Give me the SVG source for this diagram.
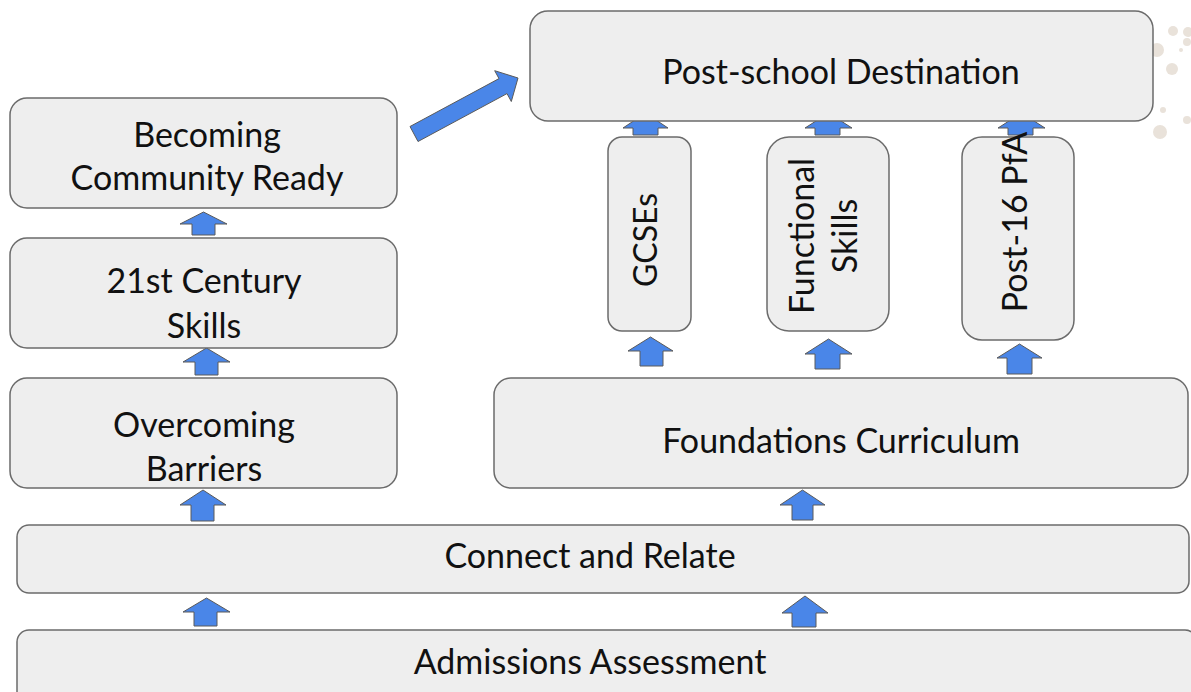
<svg xmlns="http://www.w3.org/2000/svg" width="1191" height="692" viewBox="0 0 1191 692">
<style>
.box{fill:#eeeeee;stroke:#6b6b6b;stroke-width:1.5}
.t{font-family:Lato,"Liberation Sans",sans-serif;font-size:34px;fill:#111;text-anchor:middle}
.arr{fill:#4a86e8;stroke:#5a5a5a;stroke-width:1;stroke-linejoin:miter}
.sp{fill:#e9e2da}
</style>
<g id="splatter">
<circle class="sp" cx="1173" cy="31" r="5"/>
<circle class="sp" cx="1188" cy="32" r="5"/>
<circle class="sp" cx="1157" cy="50" r="7"/>
<circle class="sp" cx="1172" cy="69" r="6"/>
<circle class="sp" cx="1181" cy="50" r="2"/>
<circle class="sp" cx="1163" cy="110" r="3"/>
<circle class="sp" cx="1187" cy="120" r="4"/>
<circle class="sp" cx="1160" cy="132" r="7"/>
<circle class="sp" cx="1187" cy="42" r="4"/>
</g>
<g id="connectors">
<polygon class="arr" points="645.5,113 668,128 658,128 658,135 633,135 633,128 623,128"/>
<polygon class="arr" points="828.5,113 852,128 840,128 840,135 815,135 815,128 805,128"/>
<polygon class="arr" points="1021.5,113 1045,128 1033,128 1033,135 1008,135 1008,128 998,128"/>
<polygon class="arr" points="410,126.5 499,78.6 494.7,70.7 518,78 511.3,101.5 507,93.6 418,141.5"/>
<polygon class="arr" points="203.5,212 227,224 215,224 215,235 192,235 192,224 180,224"/>
<polygon class="arr" points="206.5,348 230,362 218,362 218,375 195,375 195,362 183,362"/>
<polygon class="arr" points="203,490 226,505 214,505 214,521 191,521 191,505 180,505"/>
<polygon class="arr" points="802.5,490 825,505 813,505 813,520 792,520 792,505 780,505"/>
<polygon class="arr" points="206.5,598 230,612 217,612 217,626 194,626 194,612 183,612"/>
<polygon class="arr" points="805,596 828,613 816,613 816,627 792,627 792,613 782,613"/>
<polygon class="arr" points="650.5,337 673,351 663,351 663,366 640,366 640,351 628,351"/>
<polygon class="arr" points="828.5,339 852,354 840,354 840,369 815,369 815,354 805,354"/>
<polygon class="arr" points="1019.5,344 1042,358 1032,358 1032,374 1007,374 1007,358 997,358"/>
</g>
<g id="post-school">
<rect class="box" x="530" y="11" width="623" height="110" rx="18"/>
<text class="t" x="841" y="84">Post-school Destination</text>
</g>
<g id="becoming">
<rect class="box" x="10" y="98" width="387" height="110" rx="17"/>
<text class="t" x="207" y="147">Becoming</text>
<text class="t" x="207" y="190">Community Ready</text>
</g>
<g id="century">
<rect class="box" x="10" y="238" width="387" height="110" rx="17"/>
<text class="t" x="204" y="293">21st Century</text>
<text class="t" x="204" y="338">Skills</text>
</g>
<g id="overcoming">
<rect class="box" x="10" y="378" width="387" height="110" rx="17"/>
<text class="t" x="204" y="437">Overcoming</text>
<text class="t" x="204" y="481">Barriers</text>
</g>
<g id="foundations">
<rect class="box" x="494" y="378" width="694" height="110" rx="17"/>
<text class="t" x="841" y="453">Foundations Curriculum</text>
</g>
<g id="gcses">
<rect class="box" x="608" y="137" width="83" height="194" rx="14"/>
<text class="t" style="font-size:32px" transform="translate(657,240) rotate(-90)">GCSEs</text>
</g>
<g id="functional">
<rect class="box" x="767" y="137" width="122" height="194" rx="22"/>
<text class="t" transform="translate(814,236) rotate(-90)">Functional</text>
<text class="t" transform="translate(857,236) rotate(-90)">Skills</text>
</g>
<g id="pfa">
<rect class="box" x="962" y="137" width="112" height="203" rx="20"/>
<text class="t" transform="translate(1027,222) rotate(-90)">Post-16 PfA</text>
</g>
<g id="connect">
<rect class="box" x="17" y="525" width="1172" height="68" rx="12"/>
<text class="t" x="590" y="568">Connect and Relate</text>
</g>
<g id="admissions">
<rect class="box" x="17" y="630" width="1180" height="80" rx="12"/>
<text class="t" x="590" y="674">Admissions Assessment</text>
</g>
</svg>
